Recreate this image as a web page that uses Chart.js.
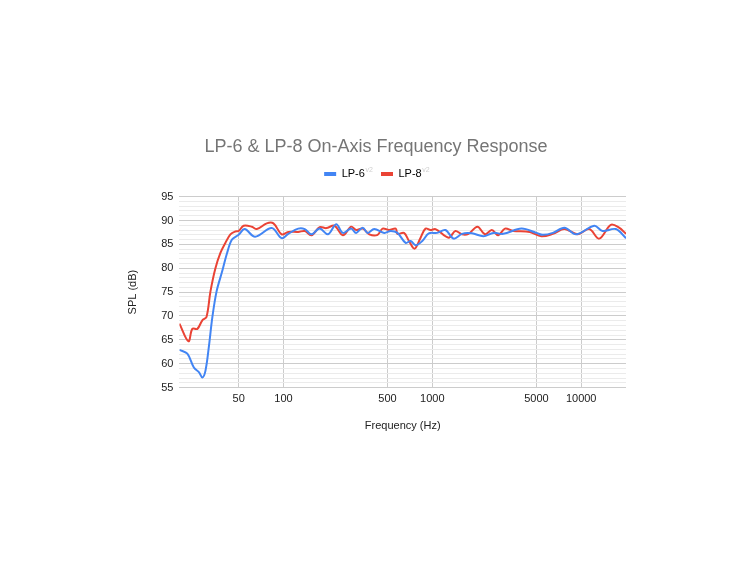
<!DOCTYPE html>
<html>
<head>
<meta charset="utf-8">
<script src="https://cdn.jsdelivr.net/npm/chart.js@4"></script>
<style>
  html, body { margin: 0; padding: 0; background: #ffffff; }
  #wrap { width: 750px; height: 563px; }
</style>
</head>
<body>
<div id="wrap"><canvas id="chart" width="750" height="563"></canvas></div>
<script>
// Values (Hz, dB SPL)
const lp6Freq = [20, 22.6, 25, 27.1, 28.5, 29.9, 31.6, 33.2, 35.5, 38.7, 41.8, 45.1, 50, 54.8, 64.5, 83.4, 97.2, 107.7, 125.6, 139, 154, 175, 199, 226, 250.7, 285, 307.6, 340.6, 368, 407, 474.6, 526, 583, 662, 715, 772, 856, 947, 1077, 1224, 1390, 1582, 1844, 2204, 2569, 2995, 3972, 5000, 5535, 6452, 7723, 9236, 12240, 13900, 17075, 20000];
const lp6Spl = [62.9, 62.1, 59.2, 58.2, 57.1, 58.5, 63.8, 69.5, 75.1, 79.3, 83.2, 86.0, 87.0, 88.2, 86.6, 88.4, 86.3, 87.2, 88.3, 88.2, 87.1, 88.3, 87.1, 89.2, 87.4, 88.3, 87.4, 88.5, 87.4, 88.2, 87.4, 87.8, 87.4, 85.3, 85.7, 84.8, 85.7, 87.3, 87.4, 88.0, 86.2, 87.2, 87.3, 86.7, 87.4, 87.2, 88.3, 87.4, 87.0, 87.4, 88.5, 87.1, 88.9, 87.8, 88.2, 86.3];

const lp8Freq = [20, 23, 24.4, 26.4, 28.5, 30.4, 32.3, 34.9, 37.7, 40.7, 44, 47.5, 50, 54, 61.3, 66.2, 77.2, 85.6, 97.2, 107.7, 125.6, 139, 154, 175, 194, 220, 250.7, 285, 307.6, 340.6, 377, 429, 463, 512, 568, 583, 645, 697, 760, 834, 900, 972, 1050, 1288, 1427, 1582, 1750, 2009, 2261, 2507, 2774, 3075, 3491, 4512, 5400, 6452, 7723, 9465, 11330, 13210, 15820, 17970, 20000];
const lp8Spl = [68.4, 64.7, 67.3, 67.3, 69.1, 69.8, 75.1, 80.0, 83.2, 85.3, 87.1, 87.7, 87.8, 88.9, 88.7, 88.2, 89.4, 89.4, 87.1, 87.6, 87.6, 87.8, 86.9, 88.6, 88.4, 88.9, 86.9, 88.7, 88.0, 88.3, 87.1, 87.0, 88.3, 88.0, 88.3, 87.2, 87.4, 85.7, 84.1, 86.4, 88.3, 88.0, 88.2, 86.4, 87.8, 87.1, 87.2, 88.7, 87.1, 88.0, 86.9, 88.3, 87.8, 87.6, 86.7, 87.2, 88.2, 87.1, 88.2, 86.2, 89.1, 88.5, 87.2];

const xTicks = [50, 100, 500, 1000, 5000, 10000];
const seriesNames = ['LP-6', 'LP-8'];
const seriesColors = ['#4285f4', '#ea4335'];

const FONT = "'Liberation Sans', Arial, sans-serif";

function toPoints(xs, ys) {
  return xs.map((x, i) => ({ x: x, y: ys[i] }));
}

// draws the small grey "v2" after each legend label, and leaves a bit more room under the legend
const legendSuffix = {
  id: 'legendSuffix',
  beforeInit(chart) {
    const fit = chart.legend.fit;
    chart.legend.fit = function () {
      fit.call(this);
      this.height += 7;
    };
  },
  afterDraw(chart) {
    const legend = chart.legend;
    if (!legend || !legend.legendHitBoxes) return;
    const ctx = chart.ctx;
    ctx.save();
    ctx.font = '11px ' + FONT;
    legend.legendHitBoxes.forEach((box, i) => {
      const w = ctx.measureText(seriesNames[i]).width;
      const x = box.left + legend.options.labels.boxWidth + 5 + w + 1;
      ctx.save();
      ctx.font = '7px ' + FONT;
      ctx.fillStyle = '#cfcfcf';
      ctx.textBaseline = 'top';
      ctx.fillText('v2', x, box.top - 2);
      ctx.restore();
    });
    ctx.restore();
  }
};

new Chart(document.getElementById('chart'), {
  type: 'line',
  data: {
    datasets: [
      {
        label: seriesNames[0],
        data: toPoints(lp6Freq, lp6Spl),
        borderColor: seriesColors[0],
        backgroundColor: seriesColors[0],
        borderWidth: 2,
        pointRadius: 0,
        tension: 0.35
      },
      {
        label: seriesNames[1],
        data: toPoints(lp8Freq, lp8Spl),
        borderColor: seriesColors[1],
        backgroundColor: seriesColors[1],
        borderWidth: 2,
        pointRadius: 0,
        tension: 0.35
      }
    ]
  },
  options: {
    responsive: false,
    animation: false,
    layout: { padding: { top: 136, left: 126, right: 124, bottom: 130 } },
    plugins: {
      title: {
        display: true,
        text: 'LP-6 & LP-8 On-Axis Frequency Response',
        color: '#757575',
        font: { family: FONT, size: 18, weight: 'normal' },
        padding: { top: 0, bottom: 1 }
      },
      legend: {
        position: 'top',
        labels: {
          color: '#222222',
          font: { family: FONT, size: 11 },
          boxWidth: 12,
          boxHeight: 4,
          padding: 10,
          generateLabels(chart) {
            return chart.data.datasets.map((ds, i) => ({
              text: ds.label + '  ',
              fillStyle: ds.borderColor,
              strokeStyle: ds.borderColor,
              lineWidth: 0,
              datasetIndex: i
            }));
          }
        }
      },
      tooltip: { enabled: false }
    },
    scales: {
      x: {
        type: 'logarithmic',
        min: 20,
        max: 20000,
        afterBuildTicks(scale) {
          scale.ticks = xTicks.map(v => ({ value: v }));
        },
        ticks: {
          color: '#222222',
          font: { family: FONT, size: 11 },
          autoSkip: false,
          maxRotation: 0,
          padding: 5,
          callback: v => String(v)
        },
        grid: { color: '#cccccc', drawTicks: false },
        border: { display: false },
        title: {
          display: true,
          text: 'Frequency (Hz)',
          color: '#222222',
          font: { family: FONT, size: 11 },
          padding: { top: 9, bottom: 0 }
        }
      },
      y: {
        min: 55,
        max: 95,
        ticks: {
          stepSize: 1,
          autoSkip: false,
          color: '#222222',
          font: { family: FONT, size: 11 },
          padding: 6,
          callback: v => (v % 5 === 0 ? String(v) : '')
        },
        grid: {
          drawTicks: false,
          color: ctx => (ctx.tick && ctx.tick.value % 5 === 0 ? '#cccccc' : '#ebebeb')
        },
        border: { display: false },
        title: {
          display: true,
          text: 'SPL (dB)',
          color: '#222222',
          font: { family: FONT, size: 11 },
          padding: { top: 0, bottom: 16 }
        }
      }
    }
  },
  plugins: [legendSuffix]
});
</script>
</body>
</html>
